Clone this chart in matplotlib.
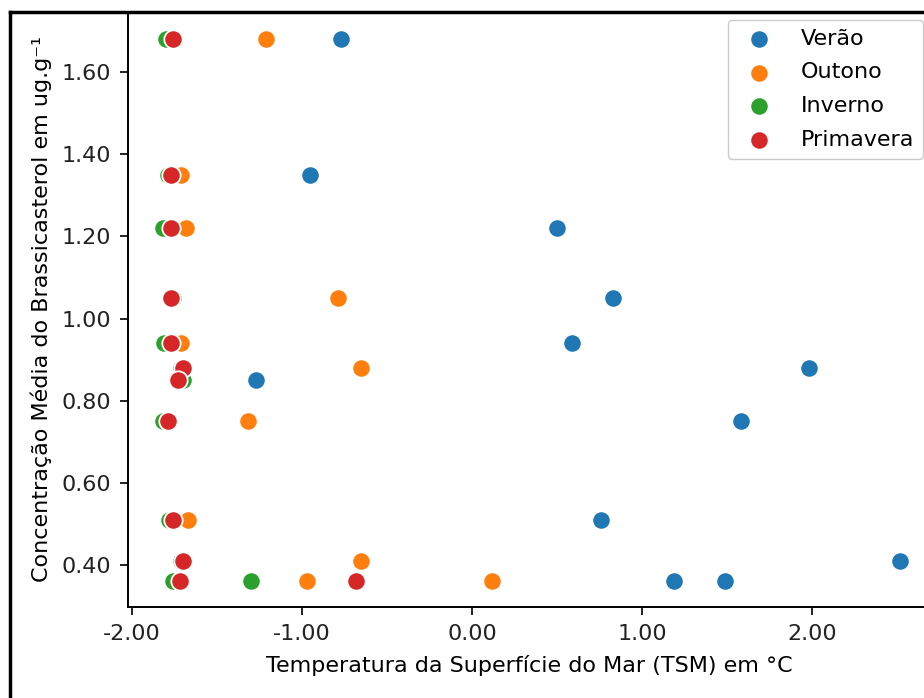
import matplotlib
matplotlib.use("Agg")
import matplotlib.pyplot as plt
from matplotlib.lines import Line2D
from matplotlib.ticker import FormatStrFormatter

# Concentração média (ug/g) por ponto, mesma ordem para todas as estações
conc = [1.68, 1.35, 1.22, 1.05, 0.94, 0.88, 0.85, 0.75, 0.51, 0.41, 0.36, 0.36]

# TSM (°C) por estação
tsm_verao = [-0.77, -0.95, 0.50, 0.83, 0.59, 1.98, -1.27, 1.58, 0.76, 2.52, 1.19, 1.49]
tsm_outono = [-1.21, -1.71, -1.68, -0.79, -1.71, -0.65, -1.72, -1.32, -1.67, -0.65, -0.97, 0.12]
tsm_inverno = [-1.80, -1.79, -1.82, -1.76, -1.81, -1.71, -1.70, -1.82, -1.78, -1.71, -1.76, -1.30]
tsm_primavera = [-1.76, -1.77, -1.77, -1.77, -1.77, -1.70, -1.73, -1.79, -1.76, -1.70, -1.72, -0.68]

estacoes = ["Verão", "Outono", "Inverno", "Primavera"]
cores = ["#1f77b4", "#ff7f0e", "#2ca02c", "#d62728"]

fig = plt.figure(figsize=(9.24, 6.98), dpi=100)
ax = fig.add_axes([128 / 924, 91 / 698, 803 / 924, 595 / 698])

fs = 16
for tsm, nome, cor in zip([tsm_verao, tsm_outono, tsm_inverno, tsm_primavera], estacoes, cores):
    ax.scatter(tsm, conc, s=175, color=cor, edgecolor="white", linewidth=1.3, label=nome, zorder=3)

ax.set_xlim(-2.0235, 2.7)
ax.set_ylim(0.2976, 1.7463)
ax.set_xticks([-2, -1, 0, 1, 2])
ax.set_yticks([0.4, 0.6, 0.8, 1.0, 1.2, 1.4, 1.6])
ax.xaxis.set_major_formatter(FormatStrFormatter("%.2f"))
ax.yaxis.set_major_formatter(FormatStrFormatter("%.2f"))
ax.tick_params(labelsize=fs, length=6, width=1.4, colors="#222222", pad=6)
for sp in ax.spines.values():
    sp.set_linewidth(1.4)

ax.set_xlabel("Temperatura da Superfície do Mar (TSM) em °C", fontsize=fs, labelpad=8)
ax.set_ylabel("Concentração Média do Brassicasterol em ug.g⁻¹", fontsize=fs, labelpad=7)

ax.legend(loc="upper right", fontsize=fs, borderaxespad=0.35, handletextpad=0.9,
          labelspacing=0.62, framealpha=1, borderpad=0.4)

# moldura preta do recorte
fig.add_artist(Line2D([10 / 924, 10 / 924], [0, 1 - 12 / 698], color="black", lw=2.5,
                      transform=fig.transFigure))
fig.add_artist(Line2D([10 / 924, 1], [1 - 12 / 698, 1 - 12 / 698], color="black", lw=2.5,
                      transform=fig.transFigure))

fig.savefig("out.png", dpi=100)
